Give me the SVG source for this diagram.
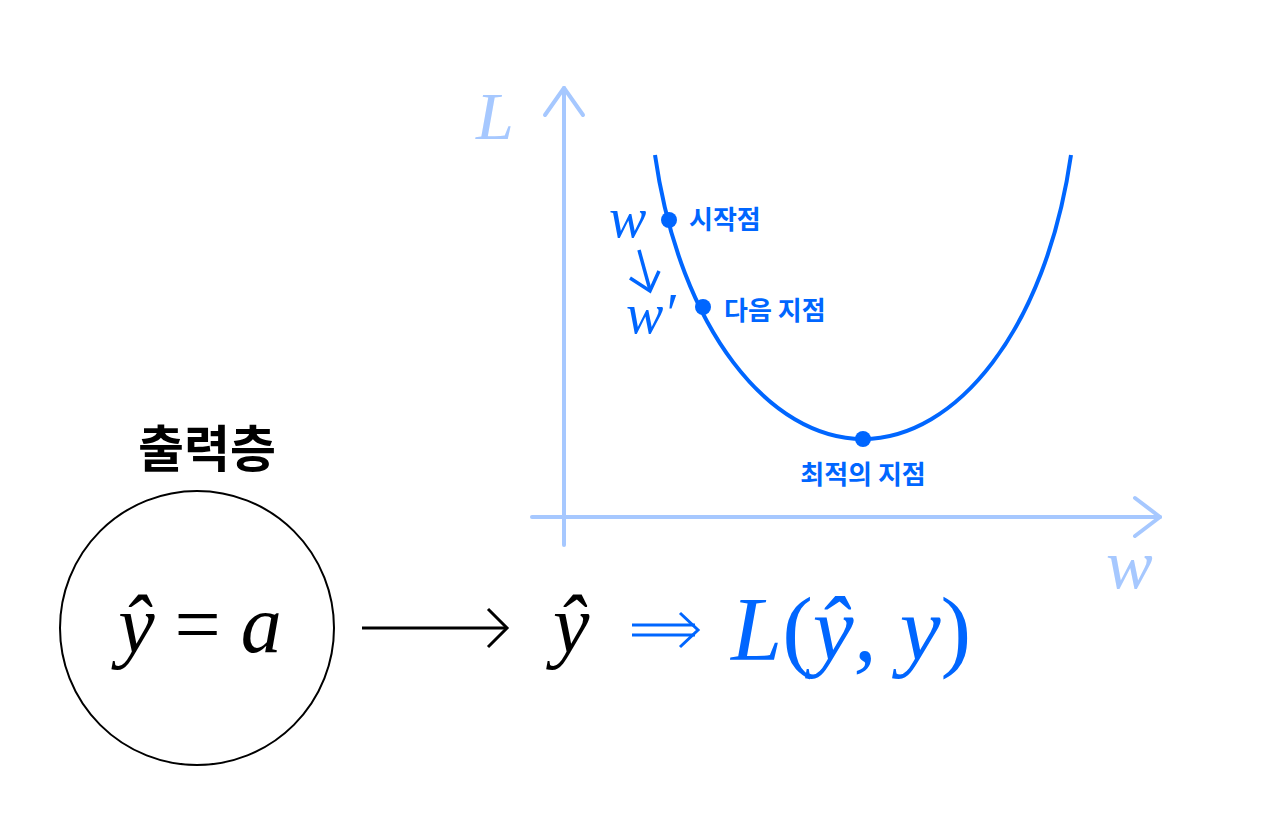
<svg xmlns="http://www.w3.org/2000/svg" width="1273" height="839" viewBox="0 0 1273 839">
<style>
.axis{stroke:#a6c8ff;stroke-width:4;fill:none;stroke-linecap:round;stroke-linejoin:round}
.math{font-family:"Liberation Serif","DejaVu Serif",serif;font-style:italic}
.kr{font-family:"Noto Sans CJK KR",sans-serif;font-weight:bold}
.blue{fill:#0066ff}
</style>
<rect width="1273" height="839" fill="#ffffff"/>
<g id="axes">
<line class="axis" x1="564" y1="545" x2="564" y2="88"/>
<polyline class="axis" points="545,115 564,88 583,115"/>
<line class="axis" x1="532" y1="517" x2="1160" y2="517"/>
<polyline class="axis" points="1135,498 1160,517 1135,536"/>
<text class="math" x="476" y="139" font-size="68" fill="#a6c8ff">L</text>
<text class="math" x="1106" y="588" font-size="70" fill="#a6c8ff">w</text>
</g>
<g id="curve">
<path d="M655,155 C680,330 770,439 863,439 C956,439 1046,330 1071,155" fill="none" stroke="#0066ff" stroke-width="4"/>
</g>
<g id="start">
<circle cx="669" cy="220" r="8" fill="#0066ff"/>
<text class="kr blue" x="689" y="229" font-size="26">시작점</text>
<text class="math blue" x="609" y="237" font-size="56">w</text>
</g>
<g id="next">
<circle cx="703" cy="307" r="8" fill="#0066ff"/>
<text class="kr blue" x="724" y="320" font-size="26">다음 지점</text>
<text class="math blue" x="626" y="333" font-size="56">w′</text>
</g>
<g id="optimum">
<circle cx="863" cy="439" r="8" fill="#0066ff"/>
<text class="kr blue" x="863" y="484" font-size="26" text-anchor="middle">최적의 지점</text>
</g>
<g id="output-layer">
<text class="kr" x="207" y="467" font-size="50" text-anchor="middle" fill="#000">출력층</text>
<circle cx="197" cy="628" r="137" fill="none" stroke="#000" stroke-width="2"/>
<text class="math" x="200" y="652" font-size="82" text-anchor="middle" fill="#000">ŷ<tspan font-style="normal" dx="20">=</tspan><tspan dx="20">a</tspan></text>
</g>
<g id="yhat">
<text class="math" x="553" y="652" font-size="82" fill="#000">ŷ</text>
</g>
<g id="loss">
<text class="math blue" x="731" y="660" font-size="92">L<tspan font-style="normal">(</tspan>ŷ, y<tspan font-style="normal">)</tspan></text>
</g>
<g id="connectors">
<line x1="362" y1="628" x2="506" y2="628" stroke="#000" stroke-width="3"/>
<polyline points="488,609 507,628 488,647" fill="none" stroke="#000" stroke-width="3"/>
<line x1="632" y1="625" x2="695" y2="625" stroke="#0066ff" stroke-width="3"/>
<line x1="632" y1="635" x2="695" y2="635" stroke="#0066ff" stroke-width="3"/>
<polyline points="680,613 698,630 680,647" fill="none" stroke="#0066ff" stroke-width="3"/>
<line x1="639" y1="250" x2="650" y2="290" stroke="#0066ff" stroke-width="3.5"/>
<polyline points="630,278 650,291 659,271" fill="none" stroke="#0066ff" stroke-width="3.5"/>
</g>
</svg>
